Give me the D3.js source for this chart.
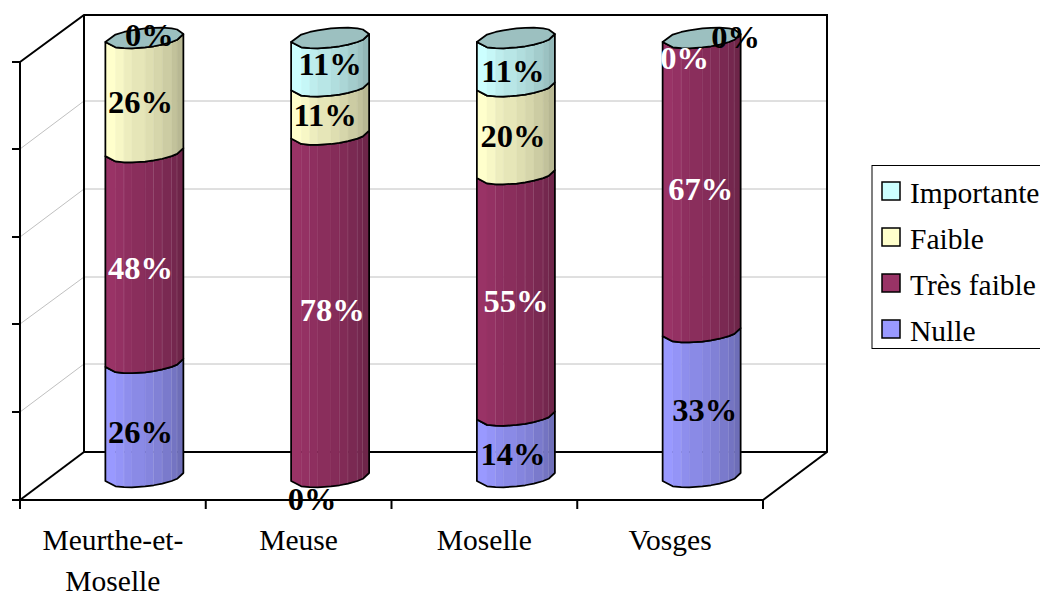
<!DOCTYPE html>
<html><head><meta charset="utf-8">
<script src="https://cdn.jsdelivr.net/npm/d3@7"></script>
<style>html,body{margin:0;padding:0;background:#fff;overflow:hidden}svg{display:block}text{font-family:"Liberation Serif",serif}</style>
</head><body><svg id="c" width="1040" height="593"></svg>
<script>
const categories = ["Meurthe-et-Moselle", "Meuse", "Moselle", "Vosges"];
const seriesNames = ["Nulle", "Très faible", "Faible", "Importante"];
const nulle = [26, 0, 14, 33];
const tresFaible = [48, 78, 55, 67];
const faible = [26, 11, 20, 0];
const importante = [0, 11, 11, 0];
const valueTicks = [0, 20, 40, 60, 80, 100];

const seriesValues = [nulle, tresFaible, faible, importante];
const seriesColors = ["#9999ff", "#993366", "#ffffcc", "#ccffff"];
const labelColors = ["#000", "#fff", "#000", "#000"];
// label placement tweaks: [series][category] => [dx, dy] from the segment's centre
const labelNudge = [
  [[-4,12],[-18,22],[-3,8],[3,5]],
  [[-4,10],[2,4],[0,6],[-1,4]],
  [[-4,7],[-5,5],[-3,6],[-17,20]],
  [[5,-3],[0,2],[-3,9],[34,-1]]
];

const svg = d3.select("#c");
const depthX = 64, depthY = -48;
const x = d3.scaleBand().domain(categories).range([20, 763]);
const wallY = d3.scaleLinear().domain([0, 100]).range([500, 62]);
const backY = d3.scaleLinear().domain([0, 100]).range([452.5, 14]);
const cylY = d3.scaleLinear().domain([0, 100]).range([481, 42]);

// grid
const grid = svg.append("g").attr("stroke", "#c0c0c0").attr("stroke-width", 1).attr("fill", "none");
valueTicks.slice(1, -1).forEach(t => {
  const y0 = Math.floor(wallY(t)), yb = Math.floor(backY(t));
  grid.append("path").attr("d", d3.line()([[20, y0], [84, yb], [827, yb]]));
});

// frame
const frame = svg.append("g").attr("stroke", "#000").attr("stroke-width", 2).attr("fill", "none");
const ln = d3.line();
frame.append("path").attr("d", ln([[20, 62], [84, 15], [827, 15], [827, 452], [763, 500], [20, 500], [20, 62]]));
frame.append("path").attr("d", ln([[84, 15], [84, 452], [827, 452]]));
frame.append("path").attr("d", ln([[20, 500], [84, 452]]));
valueTicks.forEach(t => {
  const y0 = Math.floor(wallY(t));
  frame.append("path").attr("d", ln([[12, y0], [20, y0]]));
});
x.domain().concat(["__end"]).forEach((c, i) => {
  const px = 20 + i * x.bandwidth();
  frame.append("path").attr("d", ln([[px, 500], [px, 509]]));
});

// cylinders
const rx = 39, skew = 4, ry = 9.5;
const facetU = [0, .13, .24, .34, .51, .62, .73, .85, .92, 1];
const facetShade = [1, .97, .93, .9, .87, .84, .8, .76, .72];
const hairline = [false, true, false, false, true, true, true, true, false];
const pt = (cx, yLeft, u) => {
  const c = 2 * u - 1, s = Math.sqrt(Math.max(0, 1 - c * c));
  return [cx + rx * c, yLeft - skew - skew * c + ry * s];
};
const ptBack = (cx, yLeft, u) => {
  const c = 2 * u - 1, s = Math.sqrt(Math.max(0, 1 - c * c));
  return [cx + rx * c, yLeft - skew - skew * c - ry * s];
};
const shade = (col, k) => { const q = d3.rgb(col); return d3.rgb(q.r * k, q.g * k, q.b * k).formatHex(); };
const labels = [];
categories.forEach((cat, ci) => {
  const cx = x(cat) + x.bandwidth() / 2 + 31.5;
  const g = svg.append("g");
  let acc = 0;
  seriesValues.forEach((vals, si) => {
    const v = vals[ci], y0 = cylY(acc), y1 = cylY(acc + v);
    labels.push({ si, ci, v, cx, y: cylY(acc + v / 2) - 4 });
    acc += v;
    if (v === 0) return;
    const lower = facetU.map(u => pt(cx, y0, u));
    const upper = facetU.map(u => pt(cx, y1, u));
    facetShade.forEach((k, i) => {
      g.append("path")
        .attr("d", ln([upper[i], upper[i + 1], lower[i + 1], lower[i]]) + "Z")
        .attr("fill", shade(seriesColors[si], k))
        .attr("stroke", shade(seriesColors[si], k)).attr("stroke-width", .5);
      if (hairline[i] && si < 2)
        g.append("path").attr("d", ln([upper[i + 1], lower[i + 1]]))
          .attr("stroke", "#fff").attr("stroke-opacity", .25).attr("stroke-width", 1);
    });
    g.append("path")
      .attr("d", ln(lower.concat(upper.slice().reverse())) + "Z")
      .attr("fill", "none").attr("stroke", "#000").attr("stroke-width", 1.75).attr("stroke-linejoin", "round");
  });
  const top = cylY(100);
  const ring = facetU.map(u => pt(cx, top, u)).concat(facetU.slice().reverse().map(u => ptBack(cx, top, u)));
  g.append("path").attr("d", ln(ring) + "Z")
    .attr("fill", "#9cc0c0").attr("stroke", "#000").attr("stroke-width", 1.75).attr("stroke-linejoin", "round");
});

// value labels
labels.forEach(d => {
  const [dx, dy] = labelNudge[d.si][d.ci];
  const white = d.si === 2 && d.ci === 3;
  svg.append("text").attr("x", d.cx + dx).attr("y", d.y + dy).attr("dy", "0.34em")
    .attr("text-anchor", "middle").attr("font-weight", "bold").attr("font-size", 32.5)
    .attr("fill", white ? "#fff" : labelColors[d.si]).text(d.v + "%");
});

// category labels
const catLines = c => c === "Meurthe-et-Moselle" ? ["Meurthe-et-", "Moselle"] : [c];
categories.forEach(c => {
  catLines(c).forEach((t, i) => {
    svg.append("text").attr("x", x(c) + x.bandwidth() / 2).attr("y", 550 + i * 41)
      .attr("text-anchor", "middle").attr("font-size", 29.5).attr("fill", "#000").text(t);
  });
});

// legend
const legend = svg.append("g");
legend.append("rect").attr("x", 872).attr("y", 165.5).attr("width", 200).attr("height", 183)
  .attr("fill", "#fff").attr("stroke", "#000").attr("stroke-width", 1);
seriesNames.slice().reverse().forEach((n, i) => {
  const si = seriesNames.length - 1 - i, y0 = 182 + i * 46;
  legend.append("rect").attr("x", 882).attr("y", y0).attr("width", 18).attr("height", 18)
    .attr("fill", seriesColors[si]).attr("stroke", "#000").attr("stroke-width", 1.5);
  legend.append("text").attr("x", 910).attr("y", y0 + 20.5).attr("font-size", 29.5).attr("fill", "#000").text(n);
});
</script></body></html>
